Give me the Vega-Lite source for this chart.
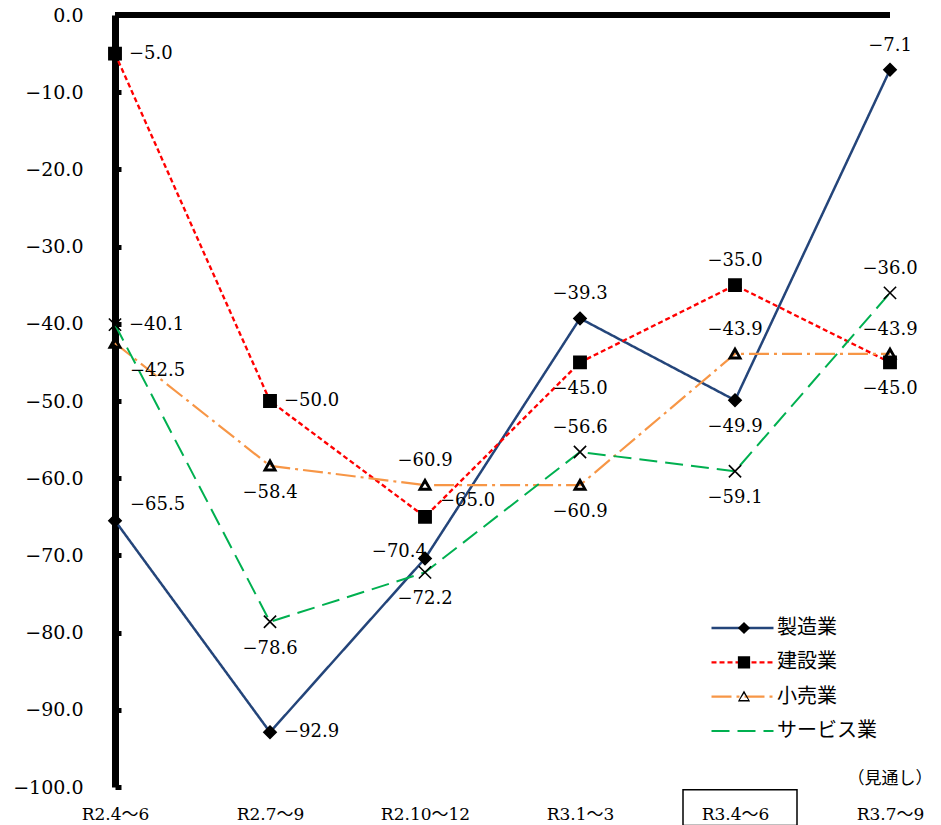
{
  "$schema": "https://vega.github.io/schema/vega-lite/v6.json",
  "width": 775,
  "height": 772,
  "autosize": {"type": "none"},
  "padding": {"left": 115, "top": 15, "right": 51, "bottom": 38},
  "background": "white",
  "config": {
    "view": {"stroke": null},
    "axisX": {"domain": false, "ticks": false, "grid": false, "title": null, "labelAngle": 0, "labelPadding": 19, "labelFont": "DejaVu Serif, Noto Sans CJK JP", "labelFontSize": 17, "labelColor": "black"},
    "axisY": {"domainWidth": 7, "domainColor": "black", "tickSize": -6, "tickWidth": 5, "tickColor": "black", "labelPadding": 38, "grid": false, "title": null, "labelFont": "DejaVu Serif", "labelFontSize": 19, "labelColor": "black"}
  },
  "datasets": {
    "pts": [
      {"period": "R2.4～6", "series": "製造業", "value": -65.5, "pos": "rightUp"},
      {"period": "R2.7～9", "series": "製造業", "value": -92.9, "pos": "right"},
      {"period": "R2.10～12", "series": "製造業", "value": -70.4, "pos": "left"},
      {"period": "R3.1～3", "series": "製造業", "value": -39.3, "pos": "above"},
      {"period": "R3.4～6", "series": "製造業", "value": -49.9, "pos": "below"},
      {"period": "R3.7～9", "series": "製造業", "value": -7.1, "pos": "above"},
      {"period": "R2.4～6", "series": "建設業", "value": -5.0, "pos": "right"},
      {"period": "R2.7～9", "series": "建設業", "value": -50.0, "pos": "right"},
      {"period": "R2.10～12", "series": "建設業", "value": -65.0, "pos": "rightUp"},
      {"period": "R3.1～3", "series": "建設業", "value": -45.0, "pos": "below"},
      {"period": "R3.4～6", "series": "建設業", "value": -35.0, "pos": "above"},
      {"period": "R3.7～9", "series": "建設業", "value": -45.0, "pos": "below"},
      {"period": "R2.4～6", "series": "小売業", "value": -42.5, "pos": "rightDown"},
      {"period": "R2.7～9", "series": "小売業", "value": -58.4, "pos": "below"},
      {"period": "R2.10～12", "series": "小売業", "value": -60.9, "pos": "above"},
      {"period": "R3.1～3", "series": "小売業", "value": -60.9, "pos": "below"},
      {"period": "R3.4～6", "series": "小売業", "value": -43.9, "pos": "above"},
      {"period": "R3.7～9", "series": "小売業", "value": -43.9, "pos": "above"},
      {"period": "R2.4～6", "series": "サービス業", "value": -40.1, "pos": "right"},
      {"period": "R2.7～9", "series": "サービス業", "value": -78.6, "pos": "below"},
      {"period": "R2.10～12", "series": "サービス業", "value": -72.2, "pos": "below"},
      {"period": "R3.1～3", "series": "サービス業", "value": -56.6, "pos": "above"},
      {"period": "R3.4～6", "series": "サービス業", "value": -59.1, "pos": "below"},
      {"period": "R3.7～9", "series": "サービス業", "value": -36.0, "pos": "above"}
    ]
  },
  "layer": [
    {
      "data": {"name": "pts"},
      "mark": {"type": "line"},
      "encoding": {
        "x": {"field": "period", "type": "ordinal", "scale": {"type": "point", "padding": 0, "domain": ["R2.4～6", "R2.7～9", "R2.10～12", "R3.1～3", "R3.4～6", "R3.7～9"]}},
        "y": {"field": "value", "type": "quantitative", "scale": {"domain": [-100, 0], "nice": false, "zero": false},
          "axis": {"values": [0, -10, -20, -30, -40, -50, -60, -70, -80, -90, -100], "format": ".1f"}},
        "color": {"field": "series", "type": "nominal",
          "scale": {"domain": ["製造業", "建設業", "小売業", "サービス業"], "range": ["#24457A", "#FF0000", "#F79646", "#00B050"]},
          "legend": {"orient": "none", "legendX": 595, "legendY": 603, "title": null, "padding": 0, "symbolType": "stroke", "symbolSize": 3844, "symbolStrokeWidth": 2.5, "clipHeight": 20, "rowPadding": 14.3, "labelFont": "Noto Sans CJK JP", "labelFontSize": 20, "labelColor": "black", "labelOffset": 2}},
        "strokeDash": {"field": "series", "type": "nominal",
          "scale": {"domain": ["製造業", "建設業", "小売業", "サービス業"], "range": [[1, 0], [5, 3], [20, 5, 3, 5], [18, 8]]},
          "legend": {"orient": "none", "legendX": 595, "legendY": 603, "title": null, "padding": 0, "symbolType": "stroke", "symbolSize": 3844, "symbolStrokeWidth": 2.5, "clipHeight": 20, "rowPadding": 14.3, "labelFont": "Noto Sans CJK JP", "labelFontSize": 20, "labelColor": "black", "labelOffset": 2}},
        "strokeWidth": {"field": "series", "type": "nominal",
          "scale": {"domain": ["製造業", "建設業", "小売業", "サービス業"], "range": [2.5, 2, 2.5, 3]}, "legend": null}
      }
    },
    {
      "data": {"name": "pts"},
      "mark": {"type": "point", "filled": true, "color": "black", "stroke": "black", "strokeWidth": 1.6, "opacity": 1, "size": 150},
      "encoding": {
        "x": {"field": "period", "type": "ordinal"},
        "y": {"field": "value", "type": "quantitative"},
        "shape": {"field": "series", "type": "nominal", "sort": "descending",
          "scale": {"range": ["M0,-1L1,0L0,1L-1,0Z", "M-1,-1L1,-1L1,1L-1,1Z", "M0,-1L1,0.8L-1,0.8ZM0,-0.5L-0.68,0.56L0.68,0.56Z", "M-1,-1L1,1M-1,1L1,-1"]},
          "legend": {"orient": "none", "legendX": 619, "legendY": 603, "title": null, "padding": 0, "symbolSize": 150, "symbolFillColor": "black", "symbolStrokeColor": "black", "symbolStrokeWidth": 1.6, "clipHeight": 20, "rowPadding": 14.3, "labelExpr": "''", "labelFontSize": 20,
            "encode": {"symbols": {"update": {"stroke": {"value": "black"}, "strokeWidth": {"value": 1.6}, "fill": {"value": "black"}, "opacity": {"value": 1}}}}}}
      }
    },
    {
      "data": {"name": "pts"},
      "transform": [{"filter": "datum.pos == 'right'"}],
      "mark": {"type": "text", "align": "left", "baseline": "middle", "dx": 14, "dy": 0, "font": "DejaVu Serif", "fontSize": 18, "fill": "black"},
      "encoding": {"x": {"field": "period", "type": "ordinal"}, "y": {"field": "value", "type": "quantitative"}, "text": {"field": "value", "type": "quantitative", "format": ".1f"}}
    },
    {
      "data": {"name": "pts"},
      "transform": [{"filter": "datum.pos == 'rightUp'"}],
      "mark": {"type": "text", "align": "left", "baseline": "middle", "dx": 15, "dy": -16, "font": "DejaVu Serif", "fontSize": 18, "fill": "black"},
      "encoding": {"x": {"field": "period", "type": "ordinal"}, "y": {"field": "value", "type": "quantitative"}, "text": {"field": "value", "type": "quantitative", "format": ".1f"}}
    },
    {
      "data": {"name": "pts"},
      "transform": [{"filter": "datum.pos == 'rightDown'"}],
      "mark": {"type": "text", "align": "left", "baseline": "middle", "dx": 15, "dy": 28, "font": "DejaVu Serif", "fontSize": 18, "fill": "black"},
      "encoding": {"x": {"field": "period", "type": "ordinal"}, "y": {"field": "value", "type": "quantitative"}, "text": {"field": "value", "type": "quantitative", "format": ".1f"}}
    },
    {
      "data": {"name": "pts"},
      "transform": [{"filter": "datum.pos == 'left'"}],
      "mark": {"type": "text", "align": "right", "baseline": "middle", "dx": 2, "dy": -6, "font": "DejaVu Serif", "fontSize": 18, "fill": "black"},
      "encoding": {"x": {"field": "period", "type": "ordinal"}, "y": {"field": "value", "type": "quantitative"}, "text": {"field": "value", "type": "quantitative", "format": ".1f"}}
    },
    {
      "data": {"name": "pts"},
      "transform": [{"filter": "datum.pos == 'above'"}],
      "mark": {"type": "text", "align": "center", "baseline": "middle", "dy": -24, "font": "DejaVu Serif", "fontSize": 18, "fill": "black"},
      "encoding": {"x": {"field": "period", "type": "ordinal"}, "y": {"field": "value", "type": "quantitative"}, "text": {"field": "value", "type": "quantitative", "format": ".1f"}}
    },
    {
      "data": {"name": "pts"},
      "transform": [{"filter": "datum.pos == 'below'"}],
      "mark": {"type": "text", "align": "center", "baseline": "middle", "dy": 27, "font": "DejaVu Serif", "fontSize": 18, "fill": "black"},
      "encoding": {"x": {"field": "period", "type": "ordinal"}, "y": {"field": "value", "type": "quantitative"}, "text": {"field": "value", "type": "quantitative", "format": ".1f"}}
    },
    {
      "data": {"values": [{"line": "top"}]},
      "mark": {"type": "rule", "strokeWidth": 6, "color": "black"},
      "encoding": {"y": {"datum": 0, "type": "quantitative"}}
    },
    {
      "data": {"values": [{"period": "R3.4～6"}]},
      "mark": {"type": "bar", "width": 114, "xOffset": 5, "fill": "transparent", "stroke": "black", "strokeWidth": 1.5},
      "encoding": {"x": {"field": "period", "type": "ordinal"}, "y": {"datum": -100.35, "type": "quantitative"}, "y2": {"datum": -105}}
    },
    {
      "data": {"values": [{"period": "R3.7～9", "note": "（見通し）"}]},
      "mark": {"type": "text", "align": "center", "baseline": "middle", "font": "Noto Sans CJK JP", "fontSize": 17, "fill": "black"},
      "encoding": {"x": {"field": "period", "type": "ordinal"}, "y": {"datum": -99, "type": "quantitative"}, "text": {"field": "note"}}
    }
  ]
}
